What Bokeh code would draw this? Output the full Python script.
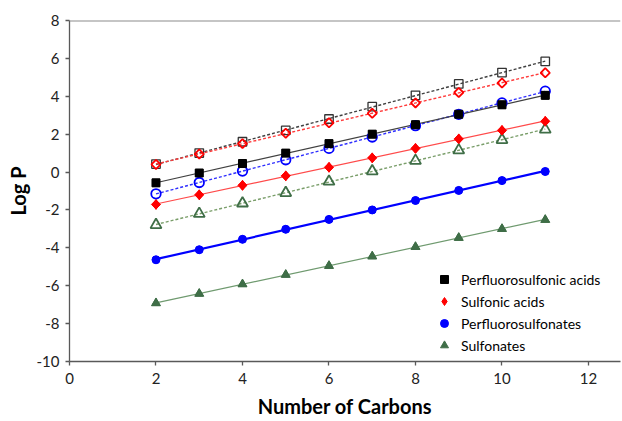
import numpy as np
from bokeh.plotting import figure
from bokeh.models import Legend, LegendItem, FixedTicker, Span, CustomJSTickFormatter
from bokeh.embed import file_html
from bokeh.resources import INLINE

carbons = [2, 3, 4, 5, 6, 7, 8, 9, 10, 11]

# filled markers (solid trendlines)
pf_acids = [-0.57, -0.05, 0.45, 1.0, 1.5, 2.0, 2.5, 3.05, 3.55, 4.05]
sulf_acids = [-1.71, -1.2, -0.7, -0.2, 0.25, 0.75, 1.25, 1.75, 2.2, 2.68]
pf_sulfonates = [-4.63, -4.1, -3.55, -3.02, -2.5, -2.0, -1.5, -0.97, -0.45, 0.03]
sulfonates = [-6.92, -6.42, -5.92, -5.42, -4.95, -4.45, -3.95, -3.47, -3.0, -2.52]

# open markers (dotted trendlines)
pf_acids_open = [0.42, 1.0, 1.6, 2.2, 2.8, 3.45, 4.05, 4.65, 5.25, 5.84]
sulf_acids_open = [0.4, 0.95, 1.5, 2.05, 2.6, 3.1, 3.65, 4.2, 4.7, 5.24]
pf_sulfonates_open = [-1.15, -0.55, 0.05, 0.65, 1.25, 1.85, 2.45, 3.05, 3.65, 4.27]
sulfonates_open = [-2.79, -2.2, -1.65, -1.1, -0.5, 0.05, 0.6, 1.15, 1.7, 2.25]

labels = ["Perfluorosulfonic acids", "Sulfonic acids", "Perfluorosulfonates", "Sulfonates"]
x_ticks = [0, 2, 4, 6, 8, 10, 12]
y_ticks = [-10, -8, -6, -4, -2, 0, 2, 4, 6, 8]

FONT = "Lato"
DIAMOND = np.pi / 4

p = figure(width=622, height=421, output_backend="svg", toolbar_location=None,
           x_range=(0, 12.74), y_range=(-10, 8),
           min_border_left=69, min_border_right=2, min_border_top=20, min_border_bottom=60)
p.grid.visible = False
p.outline_line_color = None
p.background_fill_color = "white"

p.add_layout(Span(location=8, dimension="width", line_color="#8c8c8c", line_width=2))

def trend(ys):
    m, b = np.polyfit(carbons, ys, 1)
    xs = [min(carbons), max(carbons)]
    return xs, [m * x + b for x in xs]

# dotted trendlines for open markers
dotted = [
    (pf_acids_open, "#404040"),
    (sulf_acids_open, "#ff3b3b"),
    (pf_sulfonates_open, "#2f2fff"),
    (sulfonates_open, "#7a9e6a"),
]
for ys, col in dotted:
    xs, yl = trend(ys)
    p.line(xs, yl, line_color=col, line_width=1.4, line_dash="3 2")

solid = [
    (pf_acids, "#404040", 1.2),
    (sulf_acids, "#ff4a4a", 1.2),
    (pf_sulfonates, "#0000ff", 2.2),
    (sulfonates, "#6f9a6f", 1.2),
]
for ys, col, w in solid:
    xs, yl = trend(ys)
    p.line(xs, yl, line_color=col, line_width=w)

# smaller copies under the filled markers, used as legend swatches
l1 = p.scatter(carbons, pf_acids, marker="square", size=7, fill_color="#000000", line_color="#000000")
l2 = p.scatter(carbons, sulf_acids, marker="diamond", size=10, fill_color="#ff0000", line_color="#ff0000")
l3 = p.scatter(carbons, pf_sulfonates, marker="circle", size=7, fill_color="#0000ff", line_color="#0000ff")
l4 = p.scatter(carbons, sulfonates, marker="triangle", size=8, fill_color="#3f6e47", line_color="#3f6e47")

# open markers
p.scatter(carbons, pf_acids_open, marker="square", size=8.5, fill_color=None,
          line_color="#333333", line_width=1.3)
p.scatter(carbons, sulf_acids_open, marker="square", angle=DIAMOND, size=6.5, fill_color=None,
          line_color="#ff0000", line_width=1.8)
p.scatter(carbons, pf_sulfonates_open, marker="circle", size=9.5, fill_color=None,
          line_color="#0000ff", line_width=1.8)
p.scatter(carbons, sulfonates_open, marker="triangle", size=11, fill_color=None,
          line_color="#3f6e47", line_width=1.8)

# filled markers
p.scatter(carbons, pf_acids, marker="square", size=8, fill_color="#000000", line_color="#000000")
p.scatter(carbons, sulf_acids, marker="square", angle=DIAMOND, size=6.5, fill_color="#ff0000", line_color="#ff0000")
p.scatter(carbons, pf_sulfonates, marker="circle", size=8, fill_color="#0000ff", line_color="#0000ff")
p.scatter(carbons, sulfonates, marker="triangle", size=9, fill_color="#3f6e47", line_color="#3f6e47")

legend = Legend(items=[LegendItem(label=l, renderers=[r]) for l, r in zip(labels, [l1, l2, l3, l4])],
                location=(365, 6), padding=0, margin=0, spacing=2,
                glyph_width=20, glyph_height=20, label_height=20, label_standoff=7,
                label_text_font=FONT, label_text_font_size="14px", label_text_color="#000000",
                border_line_color=None, background_fill_alpha=0)
p.add_layout(legend)

fmt = CustomJSTickFormatter(code="return tick.toString();")
for ax in (p.xaxis[0], p.yaxis[0]):
    ax.axis_line_color = "#595959"
    ax.axis_line_width = 1.3
    ax.major_tick_line_color = "#595959"
    ax.major_tick_line_width = 1.3
    ax.major_tick_in = 0
    ax.major_tick_out = 4
    ax.minor_tick_line_color = None
    ax.formatter = fmt
    ax.major_label_text_font = FONT
    ax.major_label_text_font_size = "15px"
    ax.major_label_text_color = "#222222"
    ax.axis_label_text_font = FONT
    ax.axis_label_text_font_style = "bold"
    ax.axis_label_text_font_size = "20px"
    ax.axis_label_text_color = "#000000"

p.xaxis.ticker = FixedTicker(ticks=x_ticks)
p.yaxis.ticker = FixedTicker(ticks=y_ticks)
p.xaxis.axis_label = "Number of Carbons"
p.yaxis.axis_label = "Log P"
p.xaxis.major_label_standoff = 7
p.yaxis.major_label_standoff = 6
p.xaxis.axis_label_standoff = 7
p.yaxis.axis_label_standoff = 4

open("out.html", "w").write(file_html(p, INLINE))
